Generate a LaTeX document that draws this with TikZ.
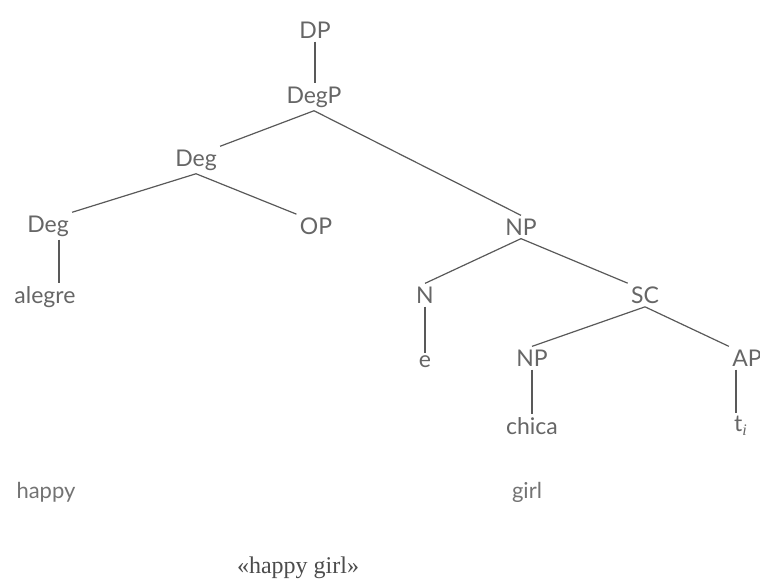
\documentclass[tikz,border=0pt]{standalone}
\usepackage{fontspec}
\setmainfont{Liberation Serif}
\setsansfont{Lato}
\usepackage{tikz}

\tikzset{
    cat/.style={font=\sffamily\fontsize{11.5}{13}\selectfont, text=black!60, inner sep=1.5pt},
    gloss/.style={font=\sffamily\fontsize{11}{13}\selectfont, text=black!55, inner sep=1.5pt},
    branch/.style={draw=black!65, line width=0.6pt}
}

\begin{document}
\begin{tikzpicture}[x=0.5pt, y=-0.5pt]
    % 边界
    \useasboundingbox (0, 0) rectangle (760, 585);

    % 上部结点
    \node[cat] (dp)   at (315, 30)  {DP};
    \node[cat] (degp) at (314, 97)  {DegP};
    \node[cat] (deg1) at (196, 160) {Deg};
    \node[cat] (deg2) at (48, 226)  {Deg};
    \node[cat] (op)   at (316, 226) {OP};
    \node[cat] (alegre) at (45, 297) {alegre};

    % 右侧结点
    \node[cat] (np1) at (521, 227) {NP};
    \node[cat] (n)   at (425, 295) {N};
    \node[cat] (e)   at (425, 362) {e};
    \node[cat] (sc)  at (645, 295) {SC};
    \node[cat] (np2) at (532, 358) {NP};
    \node[cat] (ap)  at (747, 358) {AP};
    \node[cat] (chica) at (532, 426) {chica};
    \node[cat] (ti)  at (741, 426) {t$_{\mathit{i}}$};

    % 树枝
    \draw[branch] (dp) -- (dp |- degp.north);
    \draw[branch] (degp.south) -- (deg1.north east);
    \draw[branch] (degp.south) -- (np1.north);
    \draw[branch] (deg1.south) -- (deg2.north east);
    \draw[branch] (deg1.south) -- (op.north west);
    \draw[branch] (deg2.south -| alegre.north east) ++(-20,0) coordinate (degfoot) -- (degfoot |- alegre.north);
    \draw[branch] (np1.south) -- (n.north);
    \draw[branch] (np1.south) -- (sc.north west);
    \draw[branch] (n) -- (e);
    \draw[branch] (sc.south) -- (np2.north);
    \draw[branch] (sc.south) -- (ap.north west);
    \draw[branch] (np2) -- (chica);
    \draw[branch] (ap.south west) ++(7,0) coordinate (apfoot) -- (apfoot |- ti.north);

    % 译文
    \node[gloss] (happy) at (46, 492)  {happy};
    \node[gloss] (girl)  at (527, 492) {girl};
    \node[font=\fontsize{12}{14}\selectfont, text=black!70] (trans) at (298, 568) {«happy girl»};
\end{tikzpicture}
\end{document}
